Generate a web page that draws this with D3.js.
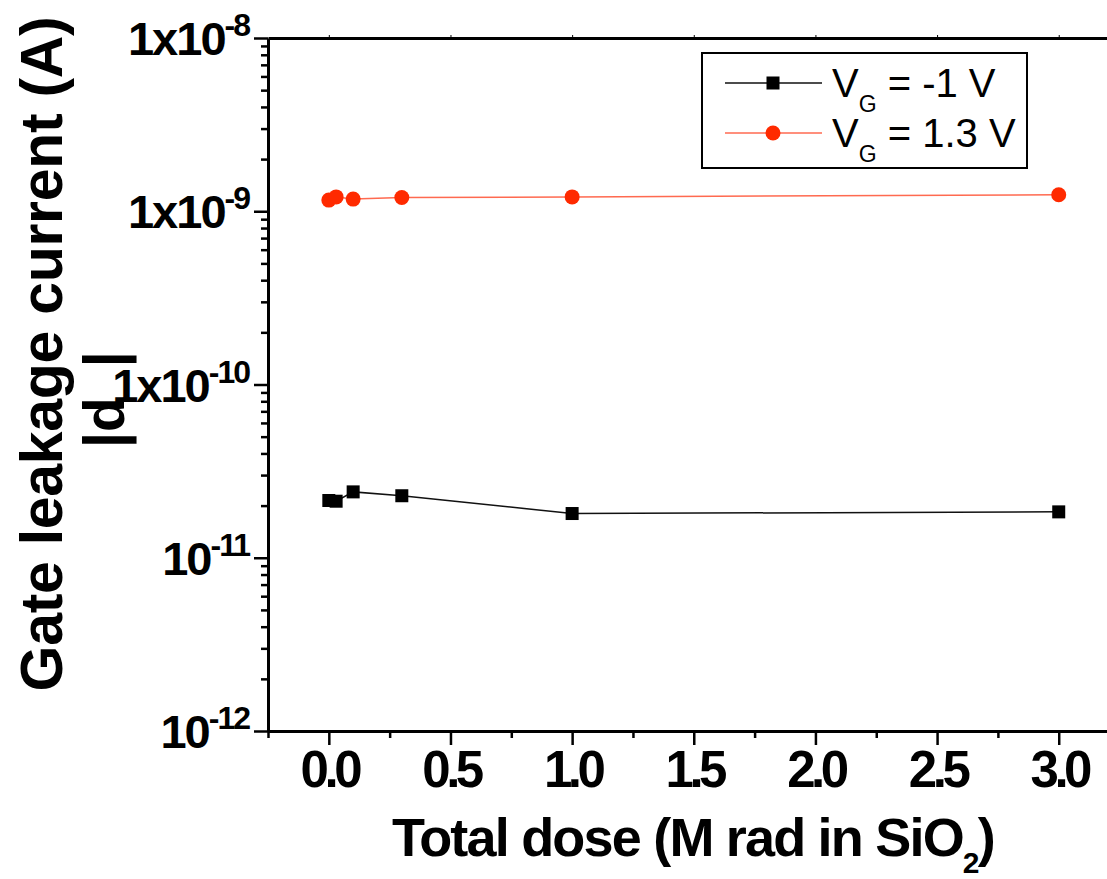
<!DOCTYPE html>
<meta charset="utf-8">
<script src="https://d3js.org/d3.v7.min.js"></script>
<style>
  body { margin: 0; background: #fff; }
  text { font-family: "Liberation Sans", Arial, sans-serif; }
</style>
<div id="chart"></div>
<script>
  // data
  const doseMrad = [0, 0.03, 0.1, 0.3, 1.0, 3.0];
  const leakVgNeg1 = [2.14e-11, 2.12e-11, 2.40e-11, 2.28e-11, 1.80e-11, 1.84e-11];
  const leakVg13 = [1.16e-9, 1.21e-9, 1.175e-9, 1.20e-9, 1.21e-9, 1.245e-9];

  const xMajorTicks = [0, 0.5, 1.0, 1.5, 2.0, 2.5, 3.0];
  const xMinorTicks = [-0.25, 0.25, 0.75, 1.25, 1.75, 2.25, 2.75, 3.25];
  const yDecades = [1e-12, 1e-11, 1e-10, 1e-9, 1e-8];
  const yTickBase = ["10", "10", "1x10", "1x10", "1x10"];
  const yTickExp = ["-12", "-11", "-10", "-9", "-8"];

  const W = 1107, H = 879;
  const plotLeft = 268, plotTop = 38, plotBottom = 731;

  const svg = d3.select("#chart").append("svg")
    .attr("width", W).attr("height", H);

  const x = d3.scaleLinear().domain([-0.25, 3.25]).range([plotLeft, plotLeft + 3.5 * 243.3]);
  const y = d3.scaleLog().domain([1e-12, 1e-8]).range([plotBottom, plotTop]);

  // minor log ticks
  let yMinor = [];
  yDecades.slice(0, -1).forEach(d => {
    for (let k = 2; k <= 9; k++) yMinor.push(d * k);
  });

  // stray rotated label fragment behind the tick labels
  svg.append("text")
    .attr("transform", "translate(124,448) rotate(-90)")
    .style("font-size", "57px").style("font-weight", "bold")
    .call(t => {
      t.append("tspan").text("|");
      t.append("tspan").text("d");
      t.append("tspan").attr("dx", 30).text("|");
    });

  // y axis
  svg.append("g")
    .attr("transform", "translate(" + plotLeft + ",0)")
    .call(d3.axisLeft(y).tickValues(yMinor).tickSize(7).tickFormat(""))
    .call(g => g.selectAll("line").attr("stroke-width", 2.5))
    .call(g => g.select(".domain").remove());
  svg.append("g")
    .attr("transform", "translate(" + plotLeft + ",0)")
    .call(d3.axisLeft(y).tickValues(yDecades).tickSizeInner(14).tickSizeOuter(0).tickFormat(""))
    .call(g => g.selectAll("line").attr("stroke-width", 2.5))
    .call(g => g.select(".domain").attr("stroke-width", 3));

  const yl = svg.append("g").selectAll("text")
    .data(yDecades)
    .enter().append("text")
    .attr("x", 249)
    .attr("y", d => y(d) + 17)
    .attr("text-anchor", "end")
    .style("font-weight", "bold");
  yl.append("tspan")
    .style("font-size", "47px").style("letter-spacing", "-2px")
    .text((d, i) => yTickBase[i]);
  yl.append("tspan")
    .attr("dy", -19)
    .style("font-size", "32px").style("letter-spacing", "-2px")
    .text((d, i) => yTickExp[i]);

  // x axis
  svg.append("g")
    .attr("transform", "translate(0," + plotBottom + ")")
    .call(d3.axisBottom(x).tickValues(xMinorTicks).tickSize(7).tickFormat(""))
    .call(g => g.selectAll("line").attr("stroke-width", 2.5))
    .call(g => g.select(".domain").remove());
  svg.append("g")
    .attr("transform", "translate(0," + plotBottom + ")")
    .call(d3.axisBottom(x).tickValues(xMajorTicks).tickSizeInner(14).tickSizeOuter(0).tickFormat(d3.format(".1f")))
    .call(g => g.selectAll("line").attr("stroke-width", 2.5))
    .call(g => g.select(".domain").attr("stroke-width", 3))
    .call(g => g.selectAll("text")
      .attr("y", 56).attr("dy", null)
      .attr("fill", "#000")
      .style("font-size", "51px").style("font-weight", "bold")
      .style("letter-spacing", "-4.5px"));

  // top frame line
  svg.append("g")
    .attr("transform", "translate(0," + plotTop + ")")
    .call(d3.axisBottom(x).tickValues(xMajorTicks).tickSizeInner(-3).tickSizeOuter(0).tickFormat(""))
    .call(g => g.selectAll("line").attr("stroke-width", 1))
    .call(g => g.select(".domain").attr("stroke-width", 3));

  // series
  const line = d3.line().x(d => x(d[0])).y(d => y(d[1]));
  const neg = doseMrad.map((d, i) => [d, leakVgNeg1[i]]);
  const pos = doseMrad.map((d, i) => [d, leakVg13[i]]);

  svg.append("path").datum(neg)
    .attr("d", line).attr("fill", "none")
    .attr("stroke", "#111").attr("stroke-width", 1.5);
  svg.append("path").datum(pos)
    .attr("d", line).attr("fill", "none")
    .attr("stroke", "#ff6a50").attr("stroke-width", 1.5);

  svg.append("g").selectAll("rect")
    .data(neg).enter().append("rect")
    .attr("x", d => x(d[0]) - 6.5).attr("y", d => y(d[1]) - 6.5)
    .attr("width", 13).attr("height", 13).attr("fill", "#000");
  svg.append("g").selectAll("circle")
    .data(pos).enter().append("circle")
    .attr("cx", d => x(d[0])).attr("cy", d => y(d[1]))
    .attr("r", 7.5).attr("fill", "#ff2a00");

  // axis titles
  svg.append("text")
    .attr("transform", "translate(62,354) rotate(-90)")
    .attr("text-anchor", "middle")
    .style("font-size", "59px").style("font-weight", "bold")
    .style("letter-spacing", "-0.3px")
    .text("Gate leakage current (A)");

  const xt = svg.append("text")
    .attr("x", 392).attr("y", 856)
    .style("font-size", "54px").style("font-weight", "bold")
    .style("letter-spacing", "-1.8px");
  xt.append("tspan").text("Total dose (M rad in SiO");
  xt.append("tspan").attr("dy", 17).style("font-size", "30px").text("2");
  xt.append("tspan").attr("dy", -17).text(")");

  // legend
  const legNames = ["= -1 V", "= 1.3 V"];
  const legColors = ["#000", "#ff2a00"];
  const legLines = ["#111", "#ff6a50"];
  const leg = svg.append("g");
  leg.append("rect")
    .attr("x", 702).attr("y", 53).attr("width", 325).attr("height", 115)
    .attr("fill", "#fff").attr("stroke", "#000").attr("stroke-width", 2);
  legNames.forEach((name, i) => {
    const ly = 83 + i * 50;
    leg.append("line")
      .attr("x1", 725).attr("x2", 822).attr("y1", ly).attr("y2", ly)
      .attr("stroke", legLines[i]).attr("stroke-width", 1.5);
    if (i === 0) {
      leg.append("rect").attr("x", 766.5).attr("y", ly - 6.5)
        .attr("width", 13).attr("height", 13).attr("fill", legColors[i]);
    } else {
      leg.append("circle").attr("cx", 773).attr("cy", ly).attr("r", 7.5)
        .attr("fill", legColors[i]);
    }
    const t = leg.append("text")
      .attr("x", 832).attr("y", ly + 14)
      .style("font-size", "40px");
    t.append("tspan").text("V");
    t.append("tspan").attr("dy", 15).style("font-size", "23px").text("G");
    t.append("tspan").attr("dy", -15).text(" " + name);
  });
</script>
